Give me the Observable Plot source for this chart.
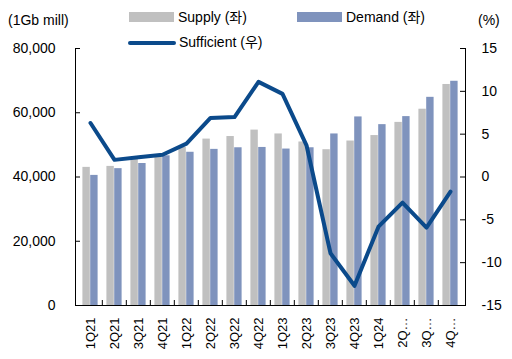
<!DOCTYPE html>
<html>
<head>
<meta charset="utf-8">
<script src="https://cdn.jsdelivr.net/npm/d3@7"></script>
<script src="https://cdn.jsdelivr.net/npm/@observablehq/plot@0.6"></script>
<style>
  html, body { margin: 0; padding: 0; background: #fff; }
  #wrap { position: relative; width: 512px; height: 359px; font-family: "Liberation Sans", Arial, "Noto Sans CJK KR", sans-serif; color: #000; }
  #wrap svg { position: absolute; left: 0; top: 0; }
  .lab { position: absolute; font-size: 14px; line-height: 16px; white-space: nowrap; }
  .sw { position: absolute; }
</style>
</head>
<body>
<div id="wrap">
  <div class="lab" style="left:8px; top:12px;">(1Gb mill)</div>
  <div class="lab" style="left:478px; top:12px;">(%)</div>
  <div class="sw" style="left:129px; top:12px; width:45px; height:10px; background:#c0c0c0;"></div>
  <div class="lab" style="left:178px; top:9px;">Supply (좌)</div>
  <div class="sw" style="left:297px; top:12px; width:45px; height:10px; background:#7f93bd;"></div>
  <div class="lab" style="left:346px; top:9px;">Demand (좌)</div>
  <div class="sw" style="left:128px; top:41px; width:48px; height:4px; background:#0b4a8b; border-radius:2px;"></div>
  <div class="lab" style="left:179px; top:34px;">Sufficient (우)</div>
</div>
<script>
const quarters = ["1Q21","2Q21","3Q21","4Q21","1Q22","2Q22","3Q22","4Q22","1Q23","2Q23","3Q23","4Q23","1Q24","2Q24","3Q24","4Q24"];
const tickLabels = ["1Q21","2Q21","3Q21","4Q21","1Q22","2Q22","3Q22","4Q22","1Q23","2Q23","3Q23","4Q23","1Q24","2Q…","3Q…","4Q…"];
const supply = [43000, 43300, 45500, 46300, 49200, 51800, 52600, 54600, 53400, 50900, 48500, 51200, 52900, 57000, 61100, 68800];
const demand = [40500, 42600, 44200, 46600, 47700, 48600, 49100, 49200, 48700, 49100, 53400, 58700, 56300, 58800, 64800, 69800];
const sufficient = [6.3, 2.0, 2.3, 2.6, 3.9, 6.9, 7.0, 11.1, 9.7, 3.7, -8.9, -12.7, -5.8, -3.0, -5.9, -1.7];
const leftTicks = [0, 20000, 40000, 60000, 80000];
const rightTicks = [-15, -10, -5, 0, 5, 10, 15];

const rows = quarters.map((q, i) => ({q, supply: supply[i], demand: demand[i], suff: sufficient[i]}));
const toLeft = p => (p + 15) * 80000 / 30;
const fromLeft = v => Math.round(v * 30 / 80000 - 15);

const W = 512, H = 359, mL = 75, mR = 47, mT = 48, mB = 54;
const frameW = W - mL - mR, frameH = H - mT - mB;
const bw = frameW / quarters.length;

const chart = Plot.plot({
  width: W, height: H,
  marginLeft: mL, marginRight: mR, marginTop: mT, marginBottom: mB,
  style: {fontFamily: '"Liberation Sans", Arial, "Noto Sans CJK KR", sans-serif', fontSize: "14px", color: "#000", background: "transparent"},
  x: {type: "band", domain: quarters, padding: 0, axis: null},
  y: {domain: [0, 80000], axis: null},
  marks: [
    Plot.barY(rows, {x: "q", y: "supply", fill: "#c0c0c0", insetLeft: 4.4, insetRight: 12.2}),
    Plot.barY(rows, {x: "q", y: "demand", fill: "#7f93bd", insetLeft: 12.2, insetRight: 4.4}),
    Plot.line(rows, {x: "q", y: d => toLeft(d.suff), stroke: "#0b4a8b", strokeWidth: 4}),
    Plot.axisY(leftTicks, {anchor: "left", tickSize: 0, tickPadding: 20, tickFormat: d3.format(","), label: null}),
    Plot.axisY(rightTicks.map(toLeft), {anchor: "right", tickSize: 0, tickPadding: 16, tickFormat: fromLeft, label: null}),
    Plot.axisX(quarters, {anchor: "bottom", tickSize: 0, tickPadding: 12, tickRotate: -90, fontSize: 13, tickFormat: d => tickLabels[quarters.indexOf(d)], label: null}),
    Plot.tickY(leftTicks, {y: d => d, insetRight: frameW - 5, stroke: "#000"}),
    Plot.tickY(rightTicks, {y: d => toLeft(d), insetLeft: frameW - 5, stroke: "#000"}),
    Plot.tickX(quarters.slice(1), {x: d => d, dx: -bw / 2, insetTop: frameH - 5, stroke: "#000"}),
    Plot.frame({anchor: "left", stroke: "#000"}),
    Plot.frame({anchor: "right", stroke: "#000"}),
    Plot.frame({anchor: "bottom", stroke: "#000"})
  ]
});
document.getElementById("wrap").prepend(chart);
</script>
</body>
</html>
